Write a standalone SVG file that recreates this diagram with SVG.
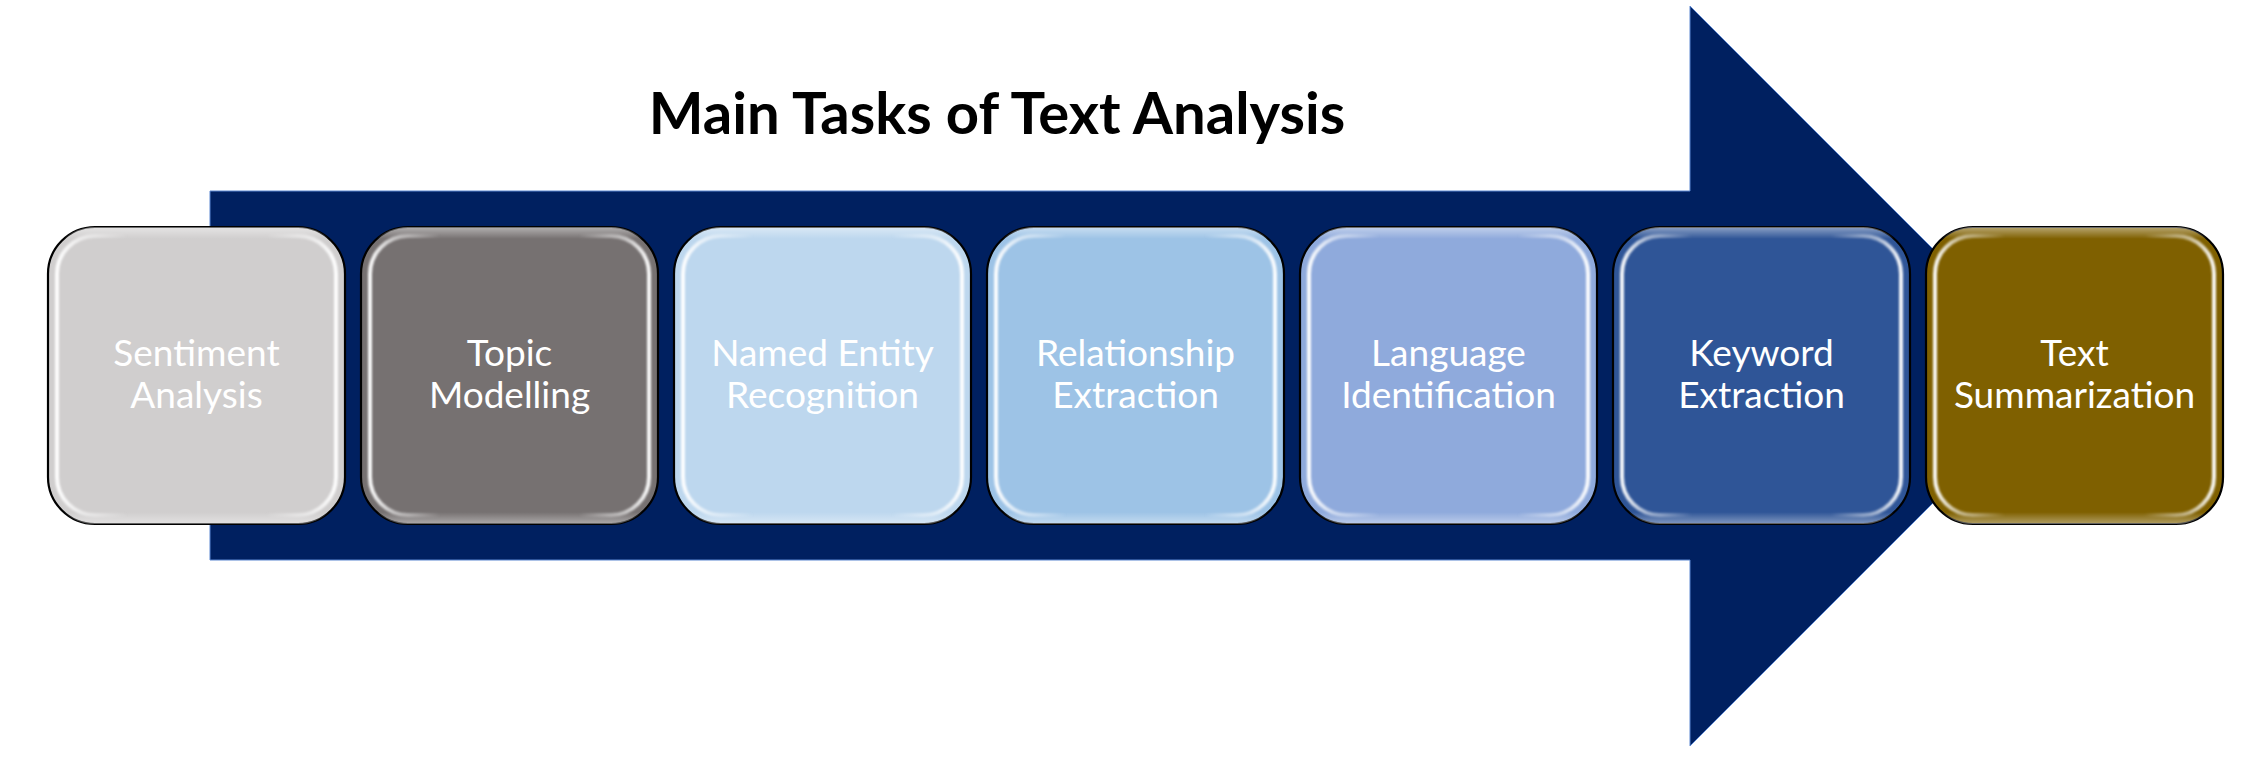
<svg xmlns="http://www.w3.org/2000/svg" width="2263" height="778" viewBox="0 0 2263 778">
  <defs>
    <linearGradient id="sideGlow" x1="0" y1="0" x2="1" y2="0">
      <stop offset="0" stop-color="#fff" stop-opacity="0.95"/>
      <stop offset="0.1" stop-color="#fff" stop-opacity="0.5"/>
      <stop offset="0.25" stop-color="#fff" stop-opacity="0"/>
      <stop offset="0.75" stop-color="#fff" stop-opacity="0"/>
      <stop offset="0.9" stop-color="#fff" stop-opacity="0.5"/>
      <stop offset="1" stop-color="#fff" stop-opacity="0.95"/>
    </linearGradient>
    <linearGradient id="edgeBand" x1="0" y1="0" x2="0" y2="1">
      <stop offset="0" stop-color="#fff" stop-opacity="0.45"/>
      <stop offset="0.04" stop-color="#fff" stop-opacity="0"/>
      <stop offset="0.96" stop-color="#fff" stop-opacity="0"/>
      <stop offset="1" stop-color="#fff" stop-opacity="0.4"/>
    </linearGradient>
    <filter id="soft" x="-5%" y="-5%" width="110%" height="110%">
      <feGaussianBlur stdDeviation="1.1"/>
    </filter>
  </defs>
  <style>
    .box { stroke: #000; stroke-width: 2.2; }
    .band { fill: url(#edgeBand); }
    .glow { fill: none; stroke: url(#sideGlow); stroke-width: 4; filter: url(#soft); }
    .lbl { font-family: Lato, "Liberation Sans", sans-serif; font-size: 37px; fill: #fff; text-anchor: middle; }
    .title { font-family: Lato, "Liberation Sans", sans-serif; font-size: 58px; font-weight: bold; fill: #000; text-anchor: middle; }
  </style>
  <rect width="2263" height="778" fill="#fff"/>
  <g id="arrow">
    <polygon points="210,191 1690,191 1690,6 2060,376 1690,746 1690,560 210,560" fill="#002060" stroke="#5B86D0" stroke-width="1"/>
  </g>
  <g id="title">
    <text class="title" x="997" y="134">Main Tasks of Text Analysis</text>
  </g>
  <g id="connectors"></g>
  <g id="node-sentiment">
    <rect class="box" x="48" y="227" width="297" height="297" rx="47" fill="#D0CECE"/>
    <rect class="band" x="48" y="227" width="297" height="297" rx="47"/>
    <rect class="glow" x="57" y="236" width="279" height="279" rx="38"/>
    <text class="lbl" x="196.5" y="366">Sentiment</text>
    <text class="lbl" x="196.5" y="408">Analysis</text>
  </g>
  <g id="node-topic">
    <rect class="box" x="361" y="227" width="297" height="297" rx="47" fill="#767171"/>
    <rect class="band" x="361" y="227" width="297" height="297" rx="47"/>
    <rect class="glow" x="370" y="236" width="279" height="279" rx="38"/>
    <text class="lbl" x="509.5" y="366">Topic</text>
    <text class="lbl" x="509.5" y="408">Modelling</text>
  </g>
  <g id="node-ner">
    <rect class="box" x="674" y="227" width="297" height="297" rx="47" fill="#BDD7EE"/>
    <rect class="band" x="674" y="227" width="297" height="297" rx="47"/>
    <rect class="glow" x="683" y="236" width="279" height="279" rx="38"/>
    <text class="lbl" x="822.5" y="366">Named Entity</text>
    <text class="lbl" x="822.5" y="408">Recognition</text>
  </g>
  <g id="node-relationship">
    <rect class="box" x="987" y="227" width="297" height="297" rx="47" fill="#9DC3E6"/>
    <rect class="band" x="987" y="227" width="297" height="297" rx="47"/>
    <rect class="glow" x="996" y="236" width="279" height="279" rx="38"/>
    <text class="lbl" x="1135.5" y="366">Relationship</text>
    <text class="lbl" x="1135.5" y="408">Extraction</text>
  </g>
  <g id="node-language">
    <rect class="box" x="1300" y="227" width="297" height="297" rx="47" fill="#8FAADC"/>
    <rect class="band" x="1300" y="227" width="297" height="297" rx="47"/>
    <rect class="glow" x="1309" y="236" width="279" height="279" rx="38"/>
    <text class="lbl" x="1448.5" y="366">Language</text>
    <text class="lbl" x="1448.5" y="408">Identification</text>
  </g>
  <g id="node-keyword">
    <rect class="box" x="1613" y="227" width="297" height="297" rx="47" fill="#2F5597"/>
    <rect class="band" x="1613" y="227" width="297" height="297" rx="47"/>
    <rect class="glow" x="1622" y="236" width="279" height="279" rx="38"/>
    <text class="lbl" x="1761.5" y="366">Keyword</text>
    <text class="lbl" x="1761.5" y="408">Extraction</text>
  </g>
  <g id="node-summarization">
    <rect class="box" x="1926" y="227" width="297" height="297" rx="47" fill="#7F6000"/>
    <rect class="band" x="1926" y="227" width="297" height="297" rx="47"/>
    <rect class="glow" x="1935" y="236" width="279" height="279" rx="38"/>
    <text class="lbl" x="2074.5" y="366">Text</text>
    <text class="lbl" x="2074.5" y="408">Summarization</text>
  </g>
</svg>
